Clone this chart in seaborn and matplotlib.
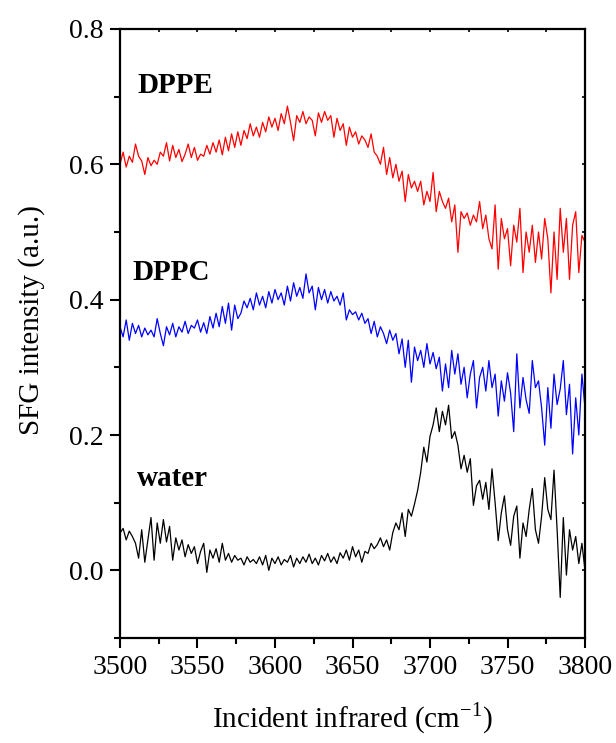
import numpy as np
import pandas as pd
import matplotlib
matplotlib.use("Agg")
import matplotlib.pyplot as plt
import seaborn as sns
from matplotlib.ticker import MultipleLocator, FormatStrFormatter

# Incident infrared wavenumber (cm^-1), step 2
wavenumber = list(range(3500, 3801, 2))

dppe = [
    0.600, 0.618, 0.596, 0.612, 0.603, 0.630, 0.612, 0.605, 0.585, 0.610,  # 3500-3518
    0.598, 0.606, 0.600, 0.618, 0.612, 0.632, 0.605, 0.628, 0.610, 0.622,  # 3520-3538
    0.604, 0.615, 0.630, 0.610, 0.625, 0.606, 0.615, 0.612, 0.628, 0.615,  # 3540-3558
    0.632, 0.618, 0.636, 0.614, 0.640, 0.620, 0.645, 0.625, 0.648, 0.628,  # 3560-3578
    0.650, 0.638, 0.660, 0.642, 0.655, 0.640, 0.662, 0.648, 0.670, 0.655,  # 3580-3598
    0.668, 0.650, 0.675, 0.660, 0.686, 0.662, 0.635, 0.672, 0.662, 0.678,  # 3600-3618
    0.660, 0.670, 0.665, 0.642, 0.676, 0.662, 0.678, 0.665, 0.672, 0.640,  # 3620-3638
    0.668, 0.650, 0.660, 0.628, 0.655, 0.640, 0.648, 0.630, 0.642, 0.636,  # 3640-3658
    0.625, 0.645, 0.618, 0.612, 0.600, 0.625, 0.585, 0.610, 0.580, 0.600,  # 3660-3678
    0.575, 0.590, 0.545, 0.585, 0.565, 0.575, 0.560, 0.575, 0.540, 0.560,  # 3680-3698
    0.545, 0.588, 0.530, 0.560, 0.545, 0.535, 0.550, 0.515, 0.540, 0.470,  # 3700-3718
    0.530, 0.520, 0.528, 0.510, 0.525, 0.515, 0.545, 0.505, 0.525, 0.490,  # 3720-3738
    0.475, 0.540, 0.445, 0.520, 0.490, 0.505, 0.450, 0.510, 0.485, 0.535,  # 3740-3758
    0.440, 0.500, 0.470, 0.510, 0.455, 0.500, 0.460, 0.520, 0.490, 0.410,  # 3760-3778
    0.500, 0.430, 0.535, 0.470, 0.520, 0.430, 0.510, 0.530, 0.440, 0.495,  # 3780-3798
    0.485,                                                                 # 3800
]

dppc = [
    0.360, 0.345, 0.370, 0.340, 0.365, 0.350, 0.362, 0.345, 0.358, 0.348,  # 3500-3518
    0.355, 0.345, 0.372, 0.350, 0.332, 0.360, 0.348, 0.365, 0.345, 0.360,  # 3520-3538
    0.352, 0.368, 0.350, 0.362, 0.358, 0.370, 0.352, 0.366, 0.350, 0.375,  # 3540-3558
    0.358, 0.380, 0.360, 0.390, 0.365, 0.395, 0.355, 0.392, 0.372, 0.380,  # 3560-3578
    0.398, 0.388, 0.402, 0.385, 0.410, 0.392, 0.405, 0.388, 0.412, 0.395,  # 3580-3598
    0.415, 0.400, 0.410, 0.392, 0.420, 0.398, 0.425, 0.405, 0.418, 0.402,  # 3600-3618
    0.438, 0.410, 0.420, 0.385, 0.418, 0.400, 0.415, 0.395, 0.412, 0.398,  # 3620-3638
    0.405, 0.392, 0.410, 0.370, 0.385, 0.378, 0.382, 0.370, 0.380, 0.365,  # 3640-3658
    0.372, 0.350, 0.368, 0.345, 0.360, 0.350, 0.335, 0.355, 0.340, 0.350,  # 3660-3678
    0.320, 0.342, 0.300, 0.340, 0.278, 0.330, 0.310, 0.325, 0.300, 0.335,  # 3680-3698
    0.305, 0.322, 0.298, 0.315, 0.265, 0.305, 0.270, 0.325, 0.290, 0.320,  # 3700-3718
    0.275, 0.300, 0.255, 0.290, 0.310, 0.240, 0.285, 0.300, 0.265, 0.310,  # 3720-3738
    0.270, 0.290, 0.228, 0.280, 0.250, 0.292, 0.262, 0.205, 0.320, 0.240,  # 3740-3758
    0.285, 0.252, 0.232, 0.310, 0.270, 0.280, 0.240, 0.185, 0.270, 0.210,  # 3760-3778
    0.290, 0.245, 0.268, 0.310, 0.230, 0.275, 0.172, 0.255, 0.200, 0.290,  # 3780-3798
    0.240,                                                                 # 3800
]

water = [
    0.055, 0.062, 0.045, 0.058, 0.050, 0.040, 0.018, 0.060, 0.012, 0.045,  # 3500-3518
    0.078, 0.015, 0.070, 0.040, 0.075, 0.042, 0.065, 0.015, 0.048, 0.030,  # 3520-3538
    0.045, 0.020, 0.038, 0.025, 0.035, 0.010, 0.028, 0.040, -0.003, 0.030,  # 3540-3558
    0.018, 0.032, 0.012, 0.040, 0.015, 0.025, 0.012, 0.022, 0.015, 0.018,  # 3560-3578
    0.008, 0.020, 0.012, 0.016, 0.010, 0.020, 0.008, 0.022, 0.000, 0.018,  # 3580-3598
    0.010, 0.020, 0.008, 0.016, 0.012, 0.022, 0.005, 0.018, 0.010, 0.020,  # 3600-3618
    0.012, 0.024, 0.010, 0.018, 0.008, 0.022, 0.014, 0.025, 0.012, 0.020,  # 3620-3638
    0.010, 0.026, 0.018, 0.030, 0.015, 0.035, 0.020, 0.030, 0.012, 0.028,  # 3640-3658
    0.025, 0.040, 0.032, 0.038, 0.048, 0.035, 0.045, 0.030, 0.056, 0.070,  # 3660-3678
    0.060, 0.085, 0.050, 0.090, 0.080, 0.098, 0.118, 0.145, 0.182, 0.160,  # 3680-3698
    0.198, 0.215, 0.240, 0.205, 0.235, 0.215, 0.244, 0.195, 0.205, 0.185,  # 3700-3718
    0.150, 0.170, 0.145, 0.165, 0.096, 0.125, 0.133, 0.105, 0.130, 0.090,  # 3720-3738
    0.150, 0.100, 0.044, 0.085, 0.110, 0.060, 0.037, 0.080, 0.095, 0.018,  # 3740-3758
    0.070, 0.050, 0.090, 0.121, 0.060, 0.040, 0.080, 0.137, 0.090, 0.075,  # 3760-3778
    0.148, 0.060, -0.040, 0.078, -0.007, 0.060, 0.030, 0.050, 0.010, 0.040,  # 3780-3798
    0.000,                                                                 # 3800
]

series_names = ["DPPE", "DPPC", "water"]
series_colors = ["#ff0000", "#0000ff", "#000000"]
label_x = [3511, 3508, 3511]
label_y = [0.717, 0.440, 0.136]

frames = []
for name, vals in zip(series_names, [dppe, dppc, water]):
    frames.append(pd.DataFrame({"wavenumber": wavenumber, "intensity": vals, "sample": name}))
df = pd.concat(frames, ignore_index=True)

sns.set_style("white")
plt.rcParams["font.family"] = ["Liberation Serif", "DejaVu Serif"]
for key in ["text.color", "axes.labelcolor", "xtick.color", "ytick.color"]:
    plt.rcParams[key] = "black"

fig = plt.figure(figsize=(6.16, 7.43), dpi=100)
ax = fig.add_axes([0.1948, 0.1413, 0.7549, 0.8197])

sns.lineplot(data=df, x="wavenumber", y="intensity", hue="sample",
             hue_order=series_names, palette=series_colors, linewidth=0.9,
             legend=False, ax=ax, estimator=None, sort=False)

for name, lx, ly in zip(series_names, label_x, label_y):
    ax.text(lx, ly, name, fontsize=21, fontweight="bold", va="center", ha="left",
            color="black")

ax.set_xlim(3500, 3800)
ax.set_ylim(-0.1, 0.8)
ax.xaxis.set_major_locator(MultipleLocator(50))
ax.xaxis.set_minor_locator(MultipleLocator(25))
ax.yaxis.set_major_locator(MultipleLocator(0.2))
ax.yaxis.set_minor_locator(MultipleLocator(0.1))
ax.yaxis.set_major_formatter(FormatStrFormatter("%.1f"))

for s in ax.spines.values():
    s.set_linewidth(1.6)
    s.set_color("black")

ax.tick_params(axis="both", which="major", direction="out", length=7, width=1.5,
               labelsize=20, pad=5, bottom=True, left=True, top=False, right=False)
ax.tick_params(axis="both", which="minor", direction="out", length=4, width=1.5,
               bottom=True, left=True, top=False, right=False)

# small inward mirror ticks on top and right
sec_x = ax.secondary_xaxis("top")
sec_x.xaxis.set_major_locator(MultipleLocator(25))
sec_x.tick_params(direction="in", length=2.5, width=1.2, labeltop=False)
sec_x.spines["top"].set_visible(False)
sec_y = ax.secondary_yaxis("right")
sec_y.yaxis.set_major_locator(MultipleLocator(0.1))
sec_y.tick_params(direction="in", length=2.5, width=1.2, labelright=False)
sec_y.spines["right"].set_visible(False)

ax.set_xlabel("Incident infrared (cm$^{\\mathregular{-1}}$)", fontsize=21, labelpad=15)
ax.set_ylabel("SFG intensity (a.u.)", fontsize=21)
ax.yaxis.set_label_coords(-0.162, 0.522)

fig.savefig("out.png", dpi=100, facecolor="white")
